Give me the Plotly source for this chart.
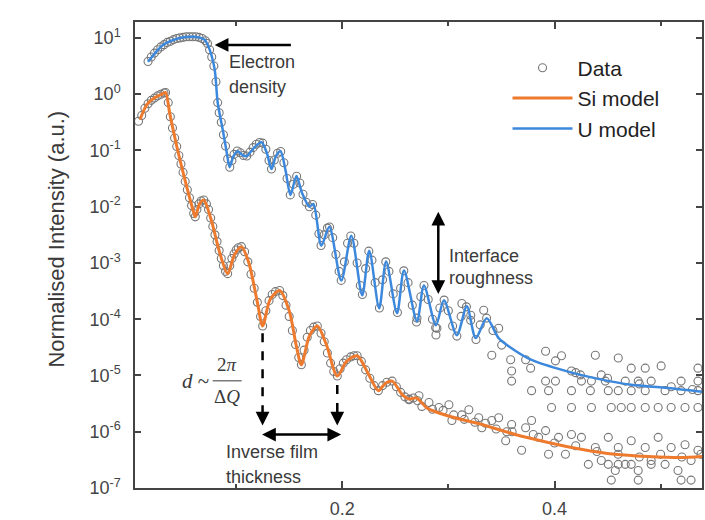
import numpy as np
import plotly.graph_objects as go

# ---------------- data (q in 1/Angstrom, intensity as log10) ----------------
si_model_q = [0.0094, 0.0160, 0.0235, 0.0310, 0.0335, 0.0375, 0.0441, 0.0516, 0.0592, 0.0615,
              0.0655, 0.0695, 0.0760, 0.0850, 0.0920, 0.0985, 0.1050, 0.1120, 0.1200, 0.1250,
              0.1320, 0.1410, 0.1500, 0.1570, 0.1615, 0.1690, 0.1765, 0.1850, 0.1953, 0.2040,
              0.2140, 0.2240, 0.2340, 0.2400, 0.2470, 0.2570, 0.2630, 0.2700, 0.2800, 0.3000,
              0.3315, 0.3630, 0.3940, 0.4250, 0.4570, 0.4880, 0.5190, 0.5400]
si_model_log = [-0.45, -0.18, -0.06, 0.01, 0.03, -0.35, -0.93, -1.51, -2.05, -2.18,
                -1.95, -1.88, -2.20, -2.85, -3.19, -2.85, -2.71, -3.00, -3.70, -4.12,
                -3.65, -3.49, -3.85, -4.50, -4.81, -4.30, -4.12, -4.45, -5.01, -4.75,
                -4.65, -4.95, -5.27, -5.15, -5.10, -5.35, -5.42, -5.40, -5.58, -5.72,
                -5.87, -6.05, -6.19, -6.31, -6.40, -6.44, -6.46, -6.44]

u_model_q = [0.0169, 0.0240, 0.0310, 0.0390, 0.0469, 0.0550, 0.0629, 0.0704, 0.0751, 0.0798,
             0.0826, 0.0873, 0.0911, 0.0939, 0.0975, 0.1014, 0.1060, 0.1099, 0.1170, 0.1239,
             0.1290, 0.1333, 0.1375, 0.1418, 0.1465, 0.1512, 0.1568, 0.1620, 0.1690, 0.1728,
             0.1803, 0.1878, 0.1991, 0.2085, 0.2188, 0.2254, 0.2348, 0.2413, 0.2516, 0.2582,
             0.2704, 0.2770, 0.2883, 0.2958, 0.3080, 0.3174, 0.3258, 0.3362, 0.3474, 0.3634,
             0.3784, 0.4103, 0.4413, 0.4723, 0.5042, 0.5399]
u_model_log = [0.576, 0.74, 0.876, 0.95, 1.00, 1.02, 1.018, 0.965, 0.788, 0.435,
               -0.148, -0.625, -1.032, -1.297, -1.10, -1.014, -1.08, -1.102, -0.95, -0.855,
               -1.05, -1.332, -1.10, -1.014, -1.35, -1.792, -1.456, -1.75, -2.00, -1.95,
               -2.693, -2.357, -3.311, -2.516, -3.576, -2.781, -3.806, -2.975, -3.894, -3.134,
               -4.035, -3.399, -4.106, -3.664, -4.283, -3.770, -4.336, -3.982, -4.336, -4.565,
               -4.724, -4.919, -5.060, -5.166, -5.219, -5.290]

si_data_q = [0.008, 0.011, 0.014, 0.017, 0.020, 0.023, 0.026, 0.029, 0.032, 0.0335,
             0.036, 0.038, 0.040, 0.042, 0.044, 0.046, 0.048, 0.050, 0.052, 0.054,
             0.056, 0.058, 0.060, 0.0615, 0.063, 0.065, 0.067, 0.0695, 0.072, 0.074,
             0.076, 0.078, 0.080, 0.082, 0.084, 0.086, 0.088, 0.090, 0.092, 0.094,
             0.096, 0.098, 0.100, 0.102, 0.105, 0.108, 0.111, 0.114, 0.117, 0.120,
             0.123, 0.125, 0.128, 0.131, 0.134, 0.137, 0.141, 0.144, 0.147, 0.150,
             0.153, 0.156, 0.159, 0.1615, 0.164, 0.167, 0.170, 0.173, 0.1765, 0.180,
             0.183, 0.186, 0.189, 0.192, 0.1953, 0.198, 0.201, 0.204, 0.208, 0.211,
             0.214, 0.218, 0.222, 0.226, 0.230, 0.234, 0.238, 0.242, 0.247, 0.251,
             0.255, 0.259, 0.263, 0.267, 0.271, 0.275,
             0.2629, 0.2723, 0.2817, 0.2911, 0.3005, 0.3033, 0.3127, 0.3193, 0.3286, 0.3315,
             0.3409, 0.3474, 0.3540, 0.3596, 0.3690, 0.3728, 0.3784, 0.3850, 0.3916, 0.3944,
             0.4038, 0.4103, 0.4160, 0.4254, 0.4319, 0.4385, 0.4441, 0.4507, 0.4573, 0.4601,
             0.4667, 0.4723, 0.4789, 0.4855, 0.4911, 0.4977, 0.5042, 0.5099, 0.5164, 0.5230,
             0.5287, 0.5352, 0.4535, 0.4789, 0.5193, 0.5287, 0.4507, 0.4601, 0.4723, 0.4911,
             0.360, 0.380, 0.400, 0.420, 0.440, 0.460, 0.480, 0.500, 0.520, 0.538,
             0.285, 0.295, 0.305, 0.315, 0.325, 0.335, 0.345, 0.355]
si_data_log = [-0.48, -0.38, -0.25, -0.17, -0.11, -0.07, -0.03, 0.00, 0.02, 0.03,
               -0.15, -0.40, -0.60, -0.78, -0.93, -1.09, -1.24, -1.39, -1.55, -1.70,
               -1.84, -1.98, -2.12, -2.18, -2.05, -1.95, -1.90, -1.88, -1.95, -2.05,
               -2.20, -2.35, -2.50, -2.62, -2.78, -2.92, -3.05, -3.15, -3.19, -3.05,
               -2.92, -2.84, -2.77, -2.73, -2.71, -2.80, -2.98, -3.20, -3.45, -3.70,
               -3.95, -4.12, -3.85, -3.67, -3.56, -3.51, -3.49, -3.58, -3.75, -3.95,
               -4.20, -4.45, -4.68, -4.81, -4.55, -4.32, -4.20, -4.14, -4.12, -4.25,
               -4.40, -4.60, -4.78, -4.93, -5.01, -4.88, -4.78, -4.72, -4.67, -4.65,
               -4.65, -4.75, -4.90, -5.05, -5.18, -5.27, -5.18, -5.12, -5.10, -5.20,
               -5.30, -5.38, -5.42, -5.40, -5.45, -5.55,
               -5.43, -5.36, -5.48, -5.57, -5.52, -5.80, -5.70, -5.61, -5.75, -5.93,
               -5.80, -5.75, -6.16, -5.87, -6.33, -5.93, -5.80, -6.10, -5.98, -6.40,
               -6.10, -6.40, -6.05, -6.10, -6.58, -6.28, -6.51, -6.10, -6.69, -6.28,
               -6.58, -6.16, -6.69, -6.28, -6.51, -6.10, -6.58, -6.28, -6.69, -6.23,
               -6.51, -6.33, -6.86, -6.86, -6.86, -6.86, -6.58, -6.58, -6.58, -6.58,
               -6.00, -6.05, -6.20, -6.25, -6.35, -6.40, -6.45, -6.40, -6.45, -6.40,
               -5.60, -5.62, -5.70, -5.78, -5.83, -5.85, -5.95, -6.00]

u_data_q = [0.017, 0.020, 0.023, 0.026, 0.029, 0.032, 0.035, 0.038, 0.041, 0.044,
            0.047, 0.050, 0.053, 0.056, 0.059, 0.062, 0.065, 0.068, 0.071, 0.073,
            0.075, 0.077, 0.079, 0.081, 0.0826, 0.084, 0.086, 0.088, 0.090, 0.092,
            0.094, 0.096, 0.098, 0.101, 0.104, 0.107, 0.110, 0.113, 0.116, 0.119,
            0.122, 0.125, 0.128, 0.131, 0.1333, 0.136, 0.139, 0.142, 0.145, 0.148,
            0.151, 0.154, 0.157, 0.160, 0.163, 0.166, 0.169, 0.172, 0.175, 0.178,
            0.180, 0.183, 0.186, 0.188, 0.191, 0.194, 0.197, 0.199, 0.202, 0.205,
            0.208, 0.211, 0.214, 0.217, 0.219, 0.222, 0.225, 0.228, 0.231, 0.235,
            0.238, 0.241, 0.244, 0.248, 0.252, 0.255, 0.258, 0.262, 0.266, 0.270,
            0.274, 0.277, 0.281, 0.285, 0.288, 0.292, 0.296, 0.300, 0.304, 0.308,
            0.312, 0.317, 0.321, 0.326, 0.330, 0.336, 0.342,
            0.2704, 0.2883, 0.2892, 0.3127, 0.3211, 0.3333, 0.3409, 0.3474, 0.3502, 0.3587,
            0.3596, 0.3728, 0.3775, 0.3916, 0.4009, 0.4066, 0.4160, 0.4244, 0.4385, 0.4441,
            0.4601, 0.4723, 0.4855, 0.5005, 0.5352,
            0.3596, 0.3916, 0.4009, 0.4254, 0.4348, 0.4479, 0.4667, 0.4789, 0.4911, 0.5193, 0.5352,
            0.3784, 0.3944, 0.4160, 0.4338, 0.4507, 0.4601, 0.4723, 0.4855, 0.5042, 0.5193, 0.5352,
            0.3972, 0.4160, 0.4348, 0.4535, 0.4629, 0.4723, 0.4855, 0.4977, 0.5099, 0.5230, 0.5352,
            0.420, 0.450, 0.480, 0.510, 0.530]
u_data_log = [0.58, 0.66, 0.73, 0.79, 0.84, 0.88, 0.92, 0.94, 0.97, 0.99,
              1.00, 1.01, 1.02, 1.02, 1.02, 1.02, 1.01, 0.99, 0.95, 0.90,
              0.79, 0.66, 0.50, 0.22, -0.15, -0.33, -0.50, -0.72, -0.92, -1.15,
              -1.30, -1.18, -1.07, -1.01, -1.04, -1.09, -1.10, -1.03, -0.95, -0.89,
              -0.86, -0.87, -0.98, -1.18, -1.33, -1.17, -1.05, -1.02, -1.22, -1.50,
              -1.79, -1.60, -1.46, -1.58, -1.78, -1.92, -2.00, -1.96, -2.15, -2.48,
              -2.69, -2.50, -2.38, -2.36, -2.55, -2.85, -3.15, -3.31, -2.98, -2.65,
              -2.52, -2.65, -3.00, -3.40, -3.56, -3.10, -2.79, -2.95, -3.35, -3.80,
              -3.30, -2.98, -3.15, -3.55, -3.88, -3.45, -3.14, -3.35, -3.75, -4.05,
              -3.60, -3.40, -3.65, -4.00, -4.15, -3.80, -3.66, -3.85, -4.12, -4.30,
              -3.95, -3.78, -4.02, -4.36, -4.10, -3.98, -4.20,
              -3.98, -4.28, -4.16, -3.72, -3.93, -3.84, -4.64, -4.16, -4.46, -4.72,
              -4.92, -4.72, -4.87, -4.57, -4.74, -4.65, -4.92, -4.99, -4.64, -4.99,
              -4.69, -4.87, -4.87, -4.83, -4.87,
              -5.10, -5.10, -5.10, -5.10, -5.10, -5.10, -5.10, -5.10, -5.10, -5.10, -5.10,
              -5.27, -5.27, -5.27, -5.27, -5.27, -5.27, -5.27, -5.27, -5.27, -5.27, -5.27,
              -5.57, -5.57, -5.57, -5.57, -5.57, -5.57, -5.57, -5.57, -5.57, -5.57, -5.57,
              -4.95, -5.05, -5.15, -5.20, -5.25]

y_tick_exponents = [-7, -6, -5, -4, -3, -2, -1, 0, 1]
x_tick_values = [0.2, 0.4]
x_tick_labels = ["0.2", "0.4"]

# ---------------- figure ----------------
ORANGE = "#EE7A2E"
BLUE = "#3C88DC"
TXT = "#3a3a3a"
FONT = "Liberation Sans, Arial, sans-serif"
SERIF = "Liberation Serif, DejaVu Serif, serif"

fig = go.Figure()

data_marker = dict(symbol="circle-open", size=8, color="#777777", line=dict(width=1.1, color="#777777"))

fig.add_trace(go.Scatter(x=si_data_q, y=10 ** np.array(si_data_log), mode="markers",
                         marker=data_marker, name="Data", legendgroup="data"))
fig.add_trace(go.Scatter(x=u_data_q, y=10 ** np.array(u_data_log), mode="markers",
                         marker=data_marker, name="Data", legendgroup="data", showlegend=False))
fig.add_trace(go.Scatter(x=si_model_q, y=10 ** np.array(si_model_log), mode="lines",
                         line=dict(color=ORANGE, width=3, shape="spline", smoothing=0.8),
                         name="Si model"))
fig.add_trace(go.Scatter(x=u_model_q, y=10 ** np.array(u_model_log), mode="lines",
                         line=dict(color=BLUE, width=2.5, shape="spline", smoothing=0.8),
                         name="U model"))

axis_common = dict(showline=True, linecolor="#444", linewidth=1.5, mirror="ticks",
                   ticks="inside", tickcolor="#444", showgrid=False, zeroline=False,
                   tickfont=dict(family=FONT, size=18, color="#444"))

fig.update_xaxes(range=[0.00469, 0.539], tickvals=x_tick_values, ticktext=x_tick_labels,
                 ticklen=7, tickwidth=1.5, ticklabelstandoff=4,
                 minor=dict(dtick=0.1, tick0=0.1, ticks="inside", ticklen=4, tickcolor="#444"),
                 **axis_common)
fig.update_yaxes(type="log", range=[-7, 1.283],
                 tickvals=[10.0 ** e for e in y_tick_exponents],
                 ticktext=[f"10<sup>{e}</sup>" for e in y_tick_exponents],
                 ticklen=6, tickwidth=1.5, ticklabelstandoff=9, **axis_common)

def ann(text, x, y, size=18, xanchor="left", family=FONT):
    fig.add_annotation(x=x, y=y, xref="x", yref="y", text=text, showarrow=False,
                       xanchor=xanchor, yanchor="middle",
                       font=dict(family=family, size=size, color=TXT))

ann("Electron", 0.0911, 0.576)
ann("density", 0.0911, 0.134)
ann("Interface", 0.2986, -2.869)
ann("roughness", 0.2986, -3.276)
ann("Inverse film", 0.0883, -6.367)
ann("thickness", 0.0883, -6.809)
ann("<i>d</i> ~", 0.0470, -5.10, size=21, family=SERIF)
ann("2<i>π</i>", 0.0911, -4.80, size=19, xanchor="center", family=SERIF)
ann("Δ<i>Q</i>", 0.0911, -5.38, size=19, xanchor="center", family=SERIF)

def arrow(x, y, ax, ay, side="end"):
    fig.add_annotation(x=x, y=y, ax=ax, ay=ay, xref="x", yref="y", axref="x", ayref="y",
                       text="", showarrow=True, arrowhead=2, arrowsize=1.1, arrowwidth=2.5,
                       arrowcolor="black", arrowside=side, startarrowhead=2, startarrowsize=1.1)

# Electron density arrow
arrow(0.0798, 0.876, 0.153, 0.876)
# Interface roughness double arrow
arrow(0.2905, -2.09, 0.2905, -3.58, side="end+start")
# Inverse film thickness double arrow
arrow(0.199, -6.05, 0.123, -6.05, side="end+start")
# dashed drop lines (shapes on a log axis take data values here)
fig.add_shape(type="line", xref="x", yref="y", x0=0.1249, x1=0.1249, y0=10 ** -4.25, y1=10 ** -5.80,
              line=dict(color="black", width=2.5, dash="dash"))
fig.add_shape(type="line", xref="x", yref="y", x0=0.1953, x1=0.1953, y0=10 ** -5.17, y1=10 ** -5.80,
              line=dict(color="black", width=2.5, dash="dash"))
arrow(0.1249, -5.89, 0.1249, -5.75)
arrow(0.1953, -5.89, 0.1953, -5.75)
# fraction bar
fig.add_shape(type="line", xref="x", yref="y", x0=0.0779, x1=0.1052, y0=10 ** -5.095, y1=10 ** -5.095,
              line=dict(color=TXT, width=1))

# y-axis title
fig.add_annotation(text="Normalised Intensity (a.u.)", xref="paper", yref="paper",
                   x=-0.1386, y=0.534, textangle=-90, showarrow=False,
                   xanchor="center", yanchor="middle",
                   font=dict(family=FONT, size=22, color=TXT))

fig.update_layout(
    width=705, height=520,
    margin=dict(l=135, r=1, t=22, b=30),
    paper_bgcolor="white", plot_bgcolor="white",
    legend=dict(x=0.657, y=0.945, xanchor="left", yanchor="top", bgcolor="rgba(0,0,0,0)",
                itemwidth=60, font=dict(family=FONT, size=21, color="#222"),
                tracegroupgap=0),
)

fig.write_html("out.html", config={"displayModeBar": False},
               post_script="document.body.style.margin='0';")
